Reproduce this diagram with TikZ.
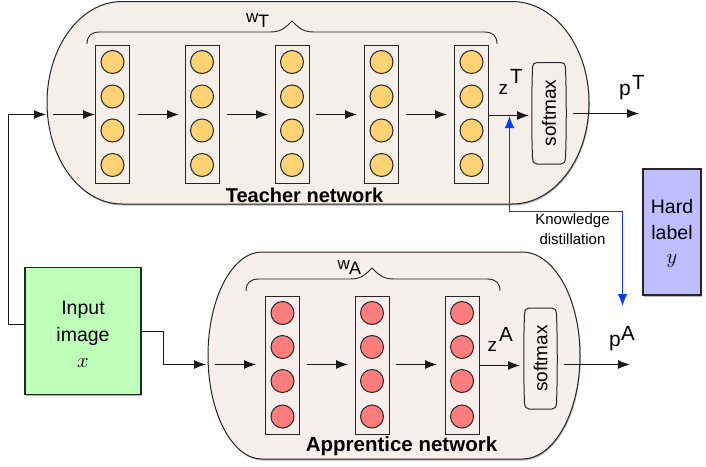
\documentclass[tikz,border=0pt]{standalone}
\usepackage{fontspec}
\setmainfont{Liberation Sans}
\usetikzlibrary{arrows.meta,shadows,positioning}
\definecolor{blobT}{RGB}{244,240,233}
\definecolor{blobA}{RGB}{246,239,237}
\definecolor{neurT}{RGB}{255,210,115}
\definecolor{neurA}{RGB}{255,125,125}
\definecolor{inputG}{RGB}{190,255,185}
\definecolor{hardB}{RGB}{190,190,255}
\definecolor{kdblue}{RGB}{5,60,255}
\newcommand{\fsz}[1]{\fontsize{#1}{23}\selectfont}
\tikzset{
  softsh/.style={drop shadow={shadow xshift=0.8pt,shadow yshift=-1.5pt,opacity=.3,fill=black}},
  blobbox/.style={draw=black!85,line width=1pt,softsh},
  colbox/.style={draw=black!85,line width=1pt,rectangle,minimum width=34pt,minimum height=138pt,inner sep=0pt},
  neuron/.style={circle,draw=black!85,line width=1pt,minimum size=23pt,inner sep=0pt},
  tneuron/.style={neuron,fill=neurT},
  aneuron/.style={neuron,fill=neurA},
  arr/.style={-{Latex[length=12pt,width=9pt]},line width=1pt,black},
  link/.style={arr,draw=black!90},
  kd/.style={{Latex[length=12pt,width=9.5pt]}-{Latex[length=12pt,width=9.5pt]},draw=kdblue,line width=1pt},
  bracepath/.style={draw=black!85,line width=.9pt},
  softbox/.style={draw=black!85,line width=1pt},
  filledbox/.style={draw=black!85,line width=1.2pt,rectangle,inner sep=0pt,softsh},
  lab/.style={inner sep=0pt,align=center,font=\fsz{19}},
  symb/.style={inner sep=0pt,font=\fsz{19}},
}
\begin{document}
\begin{tikzpicture}[x=1pt,y=-1pt]
\useasboundingbox (0,0) rectangle (706,466);
% blobs
\draw[blobbox,fill=blobT] (122,1.5) -- (512,1.5) arc[start angle=90,end angle=-90,x radius=77pt,y radius=101.25pt] -- (122,204) arc[start angle=270,end angle=90,x radius=75pt,y radius=101.25pt] -- cycle;
\draw[blobbox,fill=blobA] (262,252) -- (522,252) arc[start angle=90,end angle=-90,x radius=58pt,y radius=103.5pt] -- (262,459) arc[start angle=270,end angle=90,x radius=54pt,y radius=103.5pt] -- cycle;
% teacher columns
\foreach \n/\x in {1/112.5,2/202,3/292,4/381.5,5/471.5}{
  \node[colbox] (t\n) at (\x,114) {};
  \node[tneuron] (t\n a) at (\x,62) {};
  \node[tneuron] (t\n b) at (\x,96.5) {};
  \node[tneuron] (t\n c) at (\x,130.5) {};
  \node[tneuron] (t\n d) at (\x,165) {};
}
% apprentice columns
\foreach \n/\x in {1/282.5,2/372,3/462}{
  \node[colbox] (a\n) at (\x,365) {};
  \node[aneuron] (a\n a) at (\x,313) {};
  \node[aneuron] (a\n b) at (\x,347) {};
  \node[aneuron] (a\n c) at (\x,381) {};
  \node[aneuron] (a\n d) at (\x,416.5) {};
}
% softmax
\draw[softbox] (537,62.5) -- (561,62.5) .. controls (564,62.5) and (565,64) .. (565.5,68) .. controls (566.5,95) and (566.5,132) .. (565.5,158) .. controls (565,162) and (564,164) .. (561,164) -- (537,164) .. controls (534,164) and (533,162) .. (532.5,158) .. controls (531.5,132) and (531.5,95) .. (532.5,68) .. controls (533,64) and (534,62.5) .. (537,62.5) -- cycle;
\node[lab,rotate=90,minimum width=101pt,minimum height=33pt] (softT) at (549,113) {softmax};
\draw[softbox] (529,308) -- (552,308) .. controls (555,308) and (556,310) .. (556.5,314) .. controls (557.5,340) and (557.5,377) .. (556.5,403) .. controls (556,407) and (555,409) .. (552,409) -- (529,409) .. controls (526,409) and (525,407) .. (524.5,403) .. controls (523.5,377) and (523.5,340) .. (524.5,314) .. controls (525,310) and (526,308) .. (529,308) -- cycle;
\node[lab,rotate=90,minimum width=101pt,minimum height=31pt] (softA) at (540.5,358.5) {softmax};
% boxes
\node[filledbox,fill=inputG,minimum width=116pt,minimum height=127pt] (input) at (83,331) {};
\node[lab,font=\fsz{19.5}] (inputtxt) at (83,334) {Input\\[4pt]image\\[3pt]$x$};
\node[filledbox,fill=hardB,minimum width=58pt,minimum height=126pt] (hard) at (672,232) {};
\node[lab,font=\fsz{19.5}] (hardtxt) at (672,233) {Hard\\[3pt]label\\[1pt]$y$};
% named free ends
\coordinate (tin) at (46,114.5);
\coordinate (ain) at (206,364.5);
\coordinate (pT) at (639,113.5);
\coordinate (pA) at (630,364.5);
\coordinate (kdT) at (509.5,116);
\coordinate (kdA) at (622.5,306);
% teacher arrows
\draw[link] (53,114.5) -- (t1.west |- 0,114.5);
\draw[link] (138,114.5) -- (179,114.5);
\draw[link] (227,114.5) -- (268,114.5);
\draw[link] (316,114.5) -- (357,114.5);
\draw[link] (406,114.5) -- (447,114.5);
\draw[link] (t5.east |- 0,115.5) -- (529,115.5);
\draw[link] (573,113.5) -- (pT);
% apprentice arrows
\draw[link] (215,364.5) -- (256,364.5);
\draw[link] (307,364.5) -- (348,364.5);
\draw[link] (396,364.5) -- (437,364.5);
\draw[link] (a3.east |- 0,365.5) -- (520,365.5);
\draw[link] (564,364.5) -- (pA);
% inputs
\draw[link] (input.west |- 0,324.5) -- (8.5,324.5) -- (8.5,114.5) -- (tin);
\draw[link] (input.east |- 0,331.5) -- (163.5,331.5) -- (163.5,364.5) -- (ain);
% knowledge distillation
\draw[kd] (kdT) -- (509.5,211.5) -- (622.5,211.5) -- (kdA);
\node[inner sep=0pt,align=center,font=\fontsize{15}{20}\selectfont] (kdl) at (572.5,229) {Knowledge\\distillation};
% braces
\draw[bracepath] (87,44) .. controls (87,36) and (91,32) .. (100,32) -- (270,32) .. controls (282,32) and (286,27) .. (292,21) .. controls (298,27) and (302,32) .. (314,32) -- (484,32) .. controls (493,32) and (497,36) .. (497,44);
\draw[bracepath] (246,291) .. controls (246,283) and (250,279) .. (259,279) -- (350,279) .. controls (362,279) and (366,274) .. (372,268) .. controls (378,274) and (382,279) .. (394,279) -- (487,279) .. controls (496,279) and (500,283) .. (500,291);
% labels
\node[symb,font=\fsz{17},anchor=base west] (wT) at (246,22) {w};
\node[symb,font=\fsz{18},anchor=base west] (wTs) at (258,27) {T};
\node[symb,font=\fsz{17},anchor=base west] (wA) at (337.5,269) {w};
\node[symb,font=\fsz{18},anchor=base west] (wAs) at (349,274) {A};
\node[symb,anchor=base west] (zT) at (498.5,94) {z};
\node[symb,font=\fsz{20.5},anchor=base west] (zTs) at (510,83) {T};
\node[symb,anchor=base west] (zA) at (487.5,351) {z};
\node[symb,font=\fsz{20.5},anchor=base west] (zAs) at (499,341) {A};
\node[symb,font=\fsz{21},anchor=base west] (pTl) at (619,95) {p};
\node[symb,font=\fsz{20.5},anchor=base west] (pTs) at (632,89) {T};
\node[symb,font=\fsz{21},anchor=base west] (pAl) at (609,346) {p};
\node[symb,font=\fsz{20.5},anchor=base west] (pAs) at (621,340) {A};
\node[inner sep=0pt,font=\bfseries\fsz{20}] (tname) at (304.5,195) {Teacher network};
\node[inner sep=0pt,font=\bfseries\fsz{20.5}] (aname) at (401.5,446.5) {Apprentice network};
\end{tikzpicture}
\end{document}
